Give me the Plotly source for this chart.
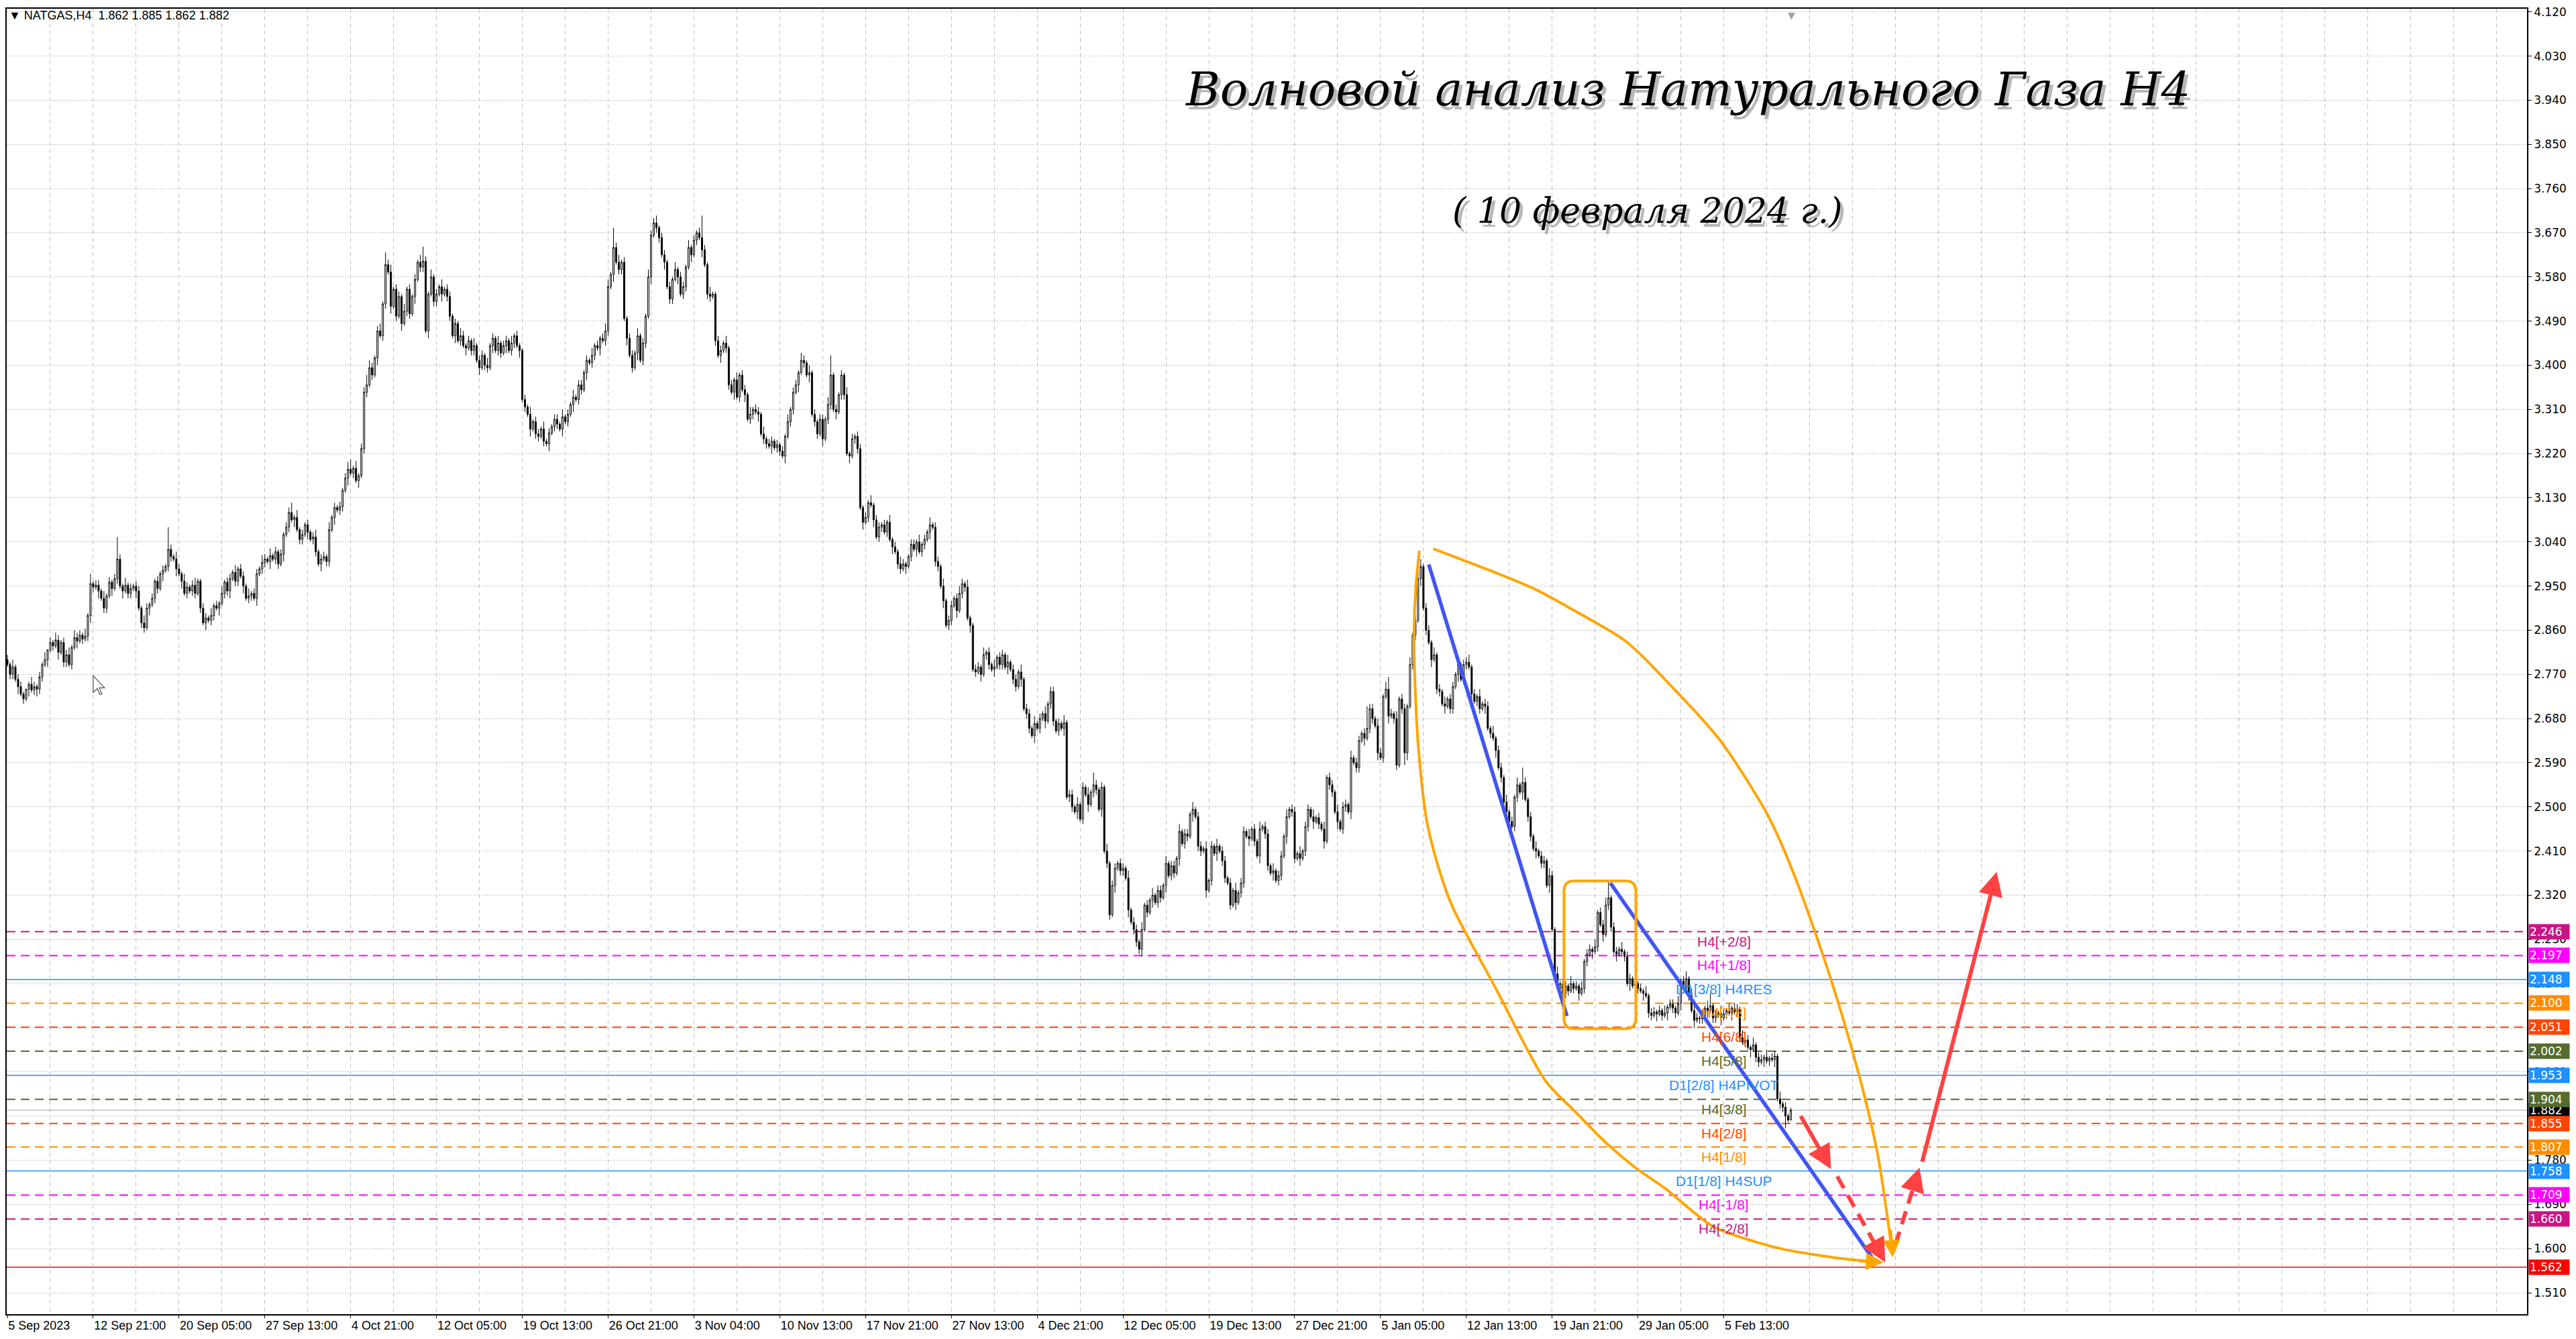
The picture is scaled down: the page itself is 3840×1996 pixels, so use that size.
import plotly.graph_objects as go

# NATGAS H4, 5 Sep 2023 - 9 Feb 2024
# closes in thousandths, one row = 32 bars (one date label apart)
CLOSE_TXT = """
2790 2770 2785 2760 2745 2730 2720 2740 2750 2738 2745 2740 2765 2790 2800 2820 2835 2828 2840 2815 2835 2795 2810 2790 2825 2845 2838 2850 2842 2848 2890 2955
2948 2952 2940 2925 2905 2930 2958 2945 2965 3005 2950 2940 2952 2935 2945 2950 2940 2905 2875 2865 2905 2912 2925 2960 2945 2975 2982 2990 3025 3010 3005 2985
2975 2960 2935 2948 2940 2952 2935 2960 2905 2875 2885 2880 2890 2910 2905 2915 2935 2958 2940 2965 2978 2960 2985 2970 2950 2925 2930 2935 2925 2975 2985 2998
3005 3000 3012 3005 3020 2995 3015 3055 3070 3100 3085 3090 3065 3045 3055 3075 3060 3045 3050 3020 2995 3005 3010 3000 3065 3090 3110 3105 3112 3145 3170 3188
3180 3190 3165 3175 3230 3345 3360 3395 3380 3415 3470 3460 3525 3605 3590 3520 3555 3500 3540 3485 3510 3555 3505 3540 3575 3610 3600 3612 3470 3545 3580 3530
3545 3560 3545 3555 3540 3500 3460 3485 3450 3460 3440 3435 3450 3430 3440 3410 3395 3420 3400 3395 3440 3455 3430 3445 3425 3440 3450 3430 3445 3460 3440 3430
3330 3315 3300 3270 3285 3260 3255 3270 3245 3240 3262 3275 3290 3280 3270 3295 3285 3300 3320 3335 3330 3360 3350 3385 3410 3405 3420 3440 3435 3455 3450 3470
3560 3585 3640 3610 3595 3610 3495 3455 3420 3395 3425 3460 3410 3445 3500 3580 3665 3690 3680 3660 3625 3610 3560 3535 3575 3595 3580 3545 3560 3600 3640 3625
3655 3670 3660 3635 3605 3545 3540 3545 3450 3420 3430 3445 3435 3360 3345 3370 3335 3380 3350 3340 3290 3300 3310 3305 3300 3260 3250 3240 3235 3245 3232 3238
3225 3215 3255 3285 3310 3345 3360 3385 3410 3405 3380 3385 3300 3285 3260 3290 3250 3290 3320 3380 3310 3305 3340 3380 3340 3220 3215 3250 3255 3230 3110 3080
3090 3120 3115 3085 3050 3070 3075 3060 3080 3045 3030 3020 2995 2985 2995 2990 3010 3035 3025 3040 3020 3035 3045 3060 3075 3070 3000 2990 2950 2920 2870 2880
2910 2925 2900 2935 2955 2948 2885 2870 2780 2775 2785 2770 2810 2815 2790 2780 2785 2805 2790 2810 2785 2795 2780 2760 2745 2775 2760 2700 2690 2660 2645 2670
2660 2680 2690 2675 2710 2735 2675 2655 2670 2660 2672 2520 2525 2500 2490 2505 2475 2540 2525 2505 2530 2545 2535 2495 2540 2410 2385 2280 2340 2375 2385 2370
2375 2355 2290 2265 2250 2225 2210 2250 2300 2285 2310 2320 2305 2330 2315 2340 2385 2360 2380 2365 2395 2450 2425 2445 2440 2485 2495 2480 2420 2410 2415 2330
2350 2420 2405 2420 2410 2390 2355 2345 2300 2330 2305 2325 2345 2450 2440 2435 2455 2430 2400 2455 2460 2445 2380 2365 2370 2350 2360 2400 2440 2480 2495 2490
2395 2405 2395 2410 2460 2495 2480 2470 2478 2465 2455 2430 2560 2545 2530 2490 2470 2455 2500 2505 2490 2600 2590 2580 2635 2650 2640 2660 2700 2680 2665 2610
2600 2725 2740 2685 2690 2680 2585 2720 2700 2610 2705 2790 2850 2880 2965 2990 2905 2860 2835 2800 2810 2740 2735 2710 2705 2720 2700 2745 2770 2790 2760 2790
2795 2785 2730 2715 2725 2700 2710 2705 2660 2650 2640 2615 2580 2560 2510 2490 2470 2460 2520 2545 2530 2550 2515 2480 2440 2415 2410 2400 2385 2390 2340 2360
2250 2160 2130 2140 2120 2135 2125 2140 2130 2135 2120 2130 2185 2200 2210 2205 2215 2285 2260 2240 2300 2315 2255 2205 2200 2210 2205 2195 2140 2150 2135 2140
2130 2125 2120 2115 2080 2075 2082 2078 2085 2075 2080 2092 2098 2090 2080 2100 2145 2130 2150 2115 2085 2065 2070 2068 2075 2090 2085 2095 2070 2075 2080 2070
2078 2085 2080 2090 2082 2088 2030 2020 2025 2010 2005 2015 1990 1980 1985 1990 1982 1988 1985 1992 1905 1895 1888 1870 1862 1882
"""
FIRST_OPEN = 2.800

# wick lengths, one digit per bar, unit 0.005
UP_WICK = """
21312210 13212130 21321223 13221314
12213121 29213121 22132121 21219213
21321231 12213121 31221312 21312213
21312121 22413121 21231221 31212123
41312243 21231523 12213121 21362131
21312212 13212131 22131213 12213121
12131221 31212213 12131221 21312123
31823121 22131213 22312212 13122131
21292131 12213121 31221312 21312212
12131221 32131212 21381212 13121221
21312212 13121321 12213121 31221312
21232131 12213121 31221312 21312213
12131221 21312213 12131521 21312212
21312213 12131221 31221312 21312213
12131221 21312213 12131221 31221312
21312213 12131221 31221312 21292213
21352131 22131243 12213121 31221312
23121312 21312213 12131621 21312213
21312213 12131221 31223712 21312213
12131221 21312213 12313221 21351213
21312213 12131221 31221312 11
"""
DN_WICK = """
12213121 31232213 12131221 21312123
21312213 12131221 31221312 21312213
13121221 21312213 12231221 31221312
21312213 12131221 31221312 21312213
12131221 21312213 12131221 31221312
21312213 12131221 31221312 21312213
12131221 21312213 12131221 31221312
21312213 12131221 31221312 21312213
12131221 21312213 12131221 31221312
21312213 12131221 31221312 21312213
12131221 21312213 12131221 31221312
21312213 12131221 31221312 21312213
12131221 21312213 12131221 31221312
21312223 12131221 31221312 21312213
12131221 21312213 12131221 31221312
21312213 12131221 31221312 21312213
12131221 25312213 12131221 31221312
21312213 12131221 31221312 21312213
12131221 21312213 12131221 31221312
21312213 12131221 31221312 21312213
12131221 21312213 12131225 10
"""

X_LABELS = ["5 Sep 2023", "12 Sep 21:00", "20 Sep 05:00", "27 Sep 13:00", "4 Oct 21:00",
            "12 Oct 05:00", "19 Oct 13:00", "26 Oct 21:00", "3 Nov 04:00", "10 Nov 13:00",
            "17 Nov 21:00", "27 Nov 13:00", "4 Dec 21:00", "12 Dec 05:00", "19 Dec 13:00",
            "27 Dec 21:00", "5 Jan 05:00", "12 Jan 13:00", "19 Jan 21:00", "29 Jan 05:00",
            "5 Feb 13:00"]
BARS_PER_LABEL = 32

Y_TICKS = [1.51, 1.60, 1.69, 1.78, 1.87, 1.96, 2.05, 2.14, 2.23, 2.32, 2.41, 2.50, 2.59, 2.68,
           2.77, 2.86, 2.95, 3.04, 3.13, 3.22, 3.31, 3.40, 3.49, 3.58, 3.67, 3.76, 3.85, 3.94,
           4.03, 4.12]

# murrey levels
LEVEL_PRICE = [2.246, 2.197, 2.148, 2.100, 2.051, 2.002, 1.953, 1.904, 1.855, 1.807, 1.758, 1.709, 1.660]
LEVEL_NAME = ["H4[+2/8]", "H4[+1/8]", "D1[3/8] H4RES", "H4[7/8]", "H4[6/8]", "H4[5/8]",
              "D1[2/8] H4PIVOT", "H4[3/8]", "H4[2/8]", "H4[1/8]", "D1[1/8] H4SUP", "H4[-1/8]", "H4[-2/8]"]
LEVEL_COLOR = ["#C71585", "#FF00FF", "#1E90FF", "#FF8C00", "#FF4500", "#556B2F", "#1E90FF",
               "#556B2F", "#FF4500", "#FF8C00", "#1E90FF", "#FF00FF", "#C71585"]
LEVEL_SOLID = [False, False, True, False, False, False, True, False, False, False, True, False, False]
LABEL_BAR = 640
BID = 1.882
TARGET = 1.562

# hand drawn wave markup (bar, price)
BLUE_LINES = [((530.0, 2.994), (581.5, 2.074)), ((597.7, 2.345), (695.2, 1.582))]
BOX = (580.4, 607.2, 2.048, 2.349)
LEFT_ARC_X = [526.5, 525.2, 524.5, 524.8, 526.2, 529.2, 533.6, 538.8, 555.0, 573.5, 584.6, 595.8,
              607.0, 618.0, 636.0, 651.6, 662.7, 685.0, 697.0]
LEFT_ARC_Y = [3.022, 2.951, 2.856, 2.760, 2.616, 2.473, 2.377, 2.297, 2.130, 1.942, 1.879, 1.817,
              1.765, 1.723, 1.645, 1.614, 1.598, 1.579, 1.573]
RIGHT_ARC_X = [531.7, 568.7, 586.2, 603.8, 621.3, 638.7, 656.5, 666.0, 679.5, 690.7, 697.4, 702.6]
RIGHT_ARC_Y = [3.026, 2.946, 2.894, 2.836, 2.741, 2.635, 2.482, 2.365, 2.156, 1.948, 1.791, 1.600]
RED_SOLID = [((668.5, 1.872), (680.0, 1.762)), ((713.9, 1.775), (741.75, 2.368))]
RED_DASHED = [((682.3, 1.747), (700.2, 1.572)), ((704.0, 1.608), (713.0, 1.765))]

# the page puts the figure 8px in from the top-left corner
PAGE_OFF = 8
W, H = 3840 - PAGE_OFF, 1996 - PAGE_OFF
ML, MR, MT, MB = 0, 73, 0, 37
PW, PH = W - ML - MR, H - MT - MB
X0 = -0.25

close = [int(v) / 1000 for v in CLOSE_TXT.split()]
up = [int(ch) for ch in UP_WICK if ch.isdigit()]
dn = [int(ch) for ch in DN_WICK if ch.isdigit()]
opens = [FIRST_OPEN] + close[:-1]
n = min(len(close), len(up), len(dn))
high = [max(o, c) + u * 0.005 for o, c, u in zip(opens[:n], close[:n], up[:n])]
low = [min(o, c) - d * 0.005 for o, c, d in zip(opens[:n], close[:n], dn[:n])]


def px(x, y):
    # screen pixel -> paper coords
    return (x - PAGE_OFF - ML) / PW, 1 - (y - PAGE_OFF - MT) / PH


fig = go.Figure()

fig.add_trace(go.Candlestick(
    x=list(range(n)), open=opens[:n], high=high, low=low, close=close[:n],
    increasing=dict(line=dict(color="black", width=1), fillcolor="white"),
    decreasing=dict(line=dict(color="black", width=1), fillcolor="black"),
    whiskerwidth=0, hoverinfo="skip", showlegend=False,
))

fig.add_trace(go.Scatter(x=LEFT_ARC_X, y=LEFT_ARC_Y, mode="lines",
                         line=dict(color="#FFA500", width=4, shape="spline", smoothing=0.8),
                         hoverinfo="skip", showlegend=False))
fig.add_trace(go.Scatter(x=RIGHT_ARC_X, y=RIGHT_ARC_Y, mode="lines",
                         line=dict(color="#FFA500", width=4, shape="spline", smoothing=0.8),
                         hoverinfo="skip", showlegend=False))

shapes = []
ann = []

# level lines
for p, col, solid, name in zip(LEVEL_PRICE, LEVEL_COLOR, LEVEL_SOLID, LEVEL_NAME):
    shapes.append(dict(type="line", xref="paper", x0=0, x1=1, yref="y", y0=p, y1=p, layer="below",
                       line=dict(color=col, width=1.5 if solid else 2,
                                 dash="solid" if solid else "13px,8px")))
    ann.append(dict(x=LABEL_BAR, y=p, xref="x", yref="y", text=name, showarrow=False,
                    xanchor="center", yanchor="top", yshift=-1,
                    font=dict(family="Liberation Sans", size=21, color=col)))
shapes.append(dict(type="line", xref="paper", x0=0, x1=1, yref="y", y0=BID, y1=BID, layer="below",
                   line=dict(color="#C0C0C0", width=1.5)))
shapes.append(dict(type="line", xref="paper", x0=0, x1=1, yref="y", y0=TARGET, y1=TARGET, layer="below",
                   line=dict(color="#FF0000", width=1.5)))

# price tags on the axis
tags = [(BID, "#000000")] + list(zip(LEVEL_PRICE, LEVEL_COLOR)) + [(TARGET, "#FF0000")]
for p, col in tags:
    ann.append(dict(x=1, y=p, xref="paper", yref="y", text=f"{p:.3f}", showarrow=False,
                    xanchor="left", yanchor="middle", xshift=2, width=58, height=20,
                    align="left", bgcolor=col, borderpad=1,
                    font=dict(family="DejaVu Sans", size=17, color="white")))

# blue wave lines
for (x0, y0), (x1, y1) in BLUE_LINES:
    shapes.append(dict(type="line", xref="x", yref="y", x0=x0, y0=y0, x1=x1, y1=y1,
                       line=dict(color="#4055F2", width=5.5), layer="above"))

# rounded box
bx0, bx1, by0, by1 = BOX
rx, ry = 3.8, 0.021
path = (f"M{bx0 + rx},{by1} L{bx1 - rx},{by1} Q{bx1},{by1} {bx1},{by1 - ry} "
        f"L{bx1},{by0 + ry} Q{bx1},{by0} {bx1 - rx},{by0} L{bx0 + rx},{by0} "
        f"Q{bx0},{by0} {bx0},{by0 + ry} L{bx0},{by1 - ry} Q{bx0},{by1} {bx0 + rx},{by1} Z")
shapes.append(dict(type="path", xref="x", yref="y", path=path,
                   line=dict(color="#FFA500", width=4), layer="above"))

# orange arc heads
ann.append(dict(x=699.5, y=1.572, ax=690.0, ay=1.5745, xref="x", yref="y", axref="x", ayref="y",
                text="", showarrow=True, arrowhead=2, arrowsize=1.3, arrowwidth=4, arrowcolor="#FFA500"))
ann.append(dict(x=703.0, y=1.582, ax=702.2, ay=1.64, xref="x", yref="y", axref="x", ayref="y",
                text="", showarrow=True, arrowhead=2, arrowsize=1.3, arrowwidth=4, arrowcolor="#FFA500"))

# red forecast arrows
RED = "#FF4242"
for (x0, y0), (x1, y1) in RED_SOLID:
    ann.append(dict(x=x1, y=y1, ax=x0, ay=y0, xref="x", yref="y", axref="x", ayref="y",
                    text="", showarrow=True, arrowhead=2, arrowsize=1.2, arrowwidth=6,
                    arrowcolor=RED))
for (x0, y0), (x1, y1) in RED_DASHED:
    mx, my = x1 - 0.12 * (x1 - x0), y1 - 0.12 * (y1 - y0)
    shapes.append(dict(type="line", xref="x", yref="y", x0=x0, y0=y0, x1=mx, y1=my,
                       line=dict(color=RED, width=6, dash="20px,12px"), layer="above"))
    ann.append(dict(x=x1, y=y1, ax=mx, ay=my, xref="x", yref="y", axref="x", ayref="y",
                    text="", showarrow=True, arrowhead=2, arrowsize=1.2, arrowwidth=6,
                    arrowcolor=RED))

# titles
title = "<i>Волновой анализ Натурального Газа Н4</i>"
sub = "<i>( 10 февраля 2024 г.)</i>"
tx, ty = px(2515, 128)
sx, sy = px(2455, 310)
for col, dx, dy in [("rgba(0,0,0,0.28)", 5, -6), ("black", 0, 0)]:
    ann.append(dict(x=tx, y=ty, xref="paper", yref="paper", text=title, showarrow=False,
                    xanchor="center", yanchor="middle", xshift=dx, yshift=dy,
                    font=dict(family="DejaVu Serif", size=69, color=col)))
    ann.append(dict(x=sx, y=sy, xref="paper", yref="paper", text=sub, showarrow=False,
                    xanchor="center", yanchor="middle", xshift=dx, yshift=dy,
                    font=dict(family="DejaVu Serif", size=52, color=col)))

# header
hx, hy = px(9, 18)
ann.append(dict(x=hx, y=hy, xref="paper", yref="paper", showarrow=False, xanchor="left",
                yanchor="middle",
                text="▼ NATGAS,H4\u00a0\u00a01.862 1.885 1.862 1.882",
                font=dict(family="Liberation Sans", size=18, color="black")))

# chart shift marker
ann.append(dict(x=px(2670, 0)[0], y=1, xref="paper", yref="paper", showarrow=False,
                xanchor="center", yanchor="top", text="▼",
                font=dict(family="DejaVu Sans", size=14, color="#A0A0A0")))

# mouse pointer
cur = [(0, 0), (0, 25), (6, 19), (10, 28), (13, 27), (9, 18), (17, 18)]
pts = [px(137 + dx, 1005 + dy) for dx, dy in cur]
cpath = "M" + " L".join(f"{a:.5f},{b:.5f}" for a, b in pts) + " Z"
shapes.append(dict(type="path", xref="paper", yref="paper", path=cpath,
                   fillcolor="white", line=dict(color="#505050", width=1.2), layer="above"))

major = [i * BARS_PER_LABEL for i in range(len(X_LABELS))]
minor = [16 * k for k in range(1, 59) if (k % 2 == 1 or 16 * k > major[-1])]

fig.update_layout(
    width=W, height=H,
    margin=dict(l=ML, r=MR, t=MT, b=MB),
    paper_bgcolor="white", plot_bgcolor="white",
    showlegend=False, hovermode=False,
    shapes=shapes, annotations=ann,
    xaxis=dict(
        range=[X0, X0 + PW / 4], fixedrange=True, rangeslider=dict(visible=False),
        tickvals=major, ticktext=X_LABELS, ticks="outside", ticklen=4, tickcolor="black",
        ticklabelposition="outside right",
        tickfont=dict(family="Liberation Sans", size=18, color="black"),
        showgrid=True, gridcolor="#C0C0C0", gridwidth=1, griddash="6px,5px",
        minor=dict(tickvals=minor, showgrid=True, gridcolor="#C0C0C0", gridwidth=1,
                   griddash="6px,5px", ticks=""),
        showline=True, linecolor="black", linewidth=1.5, mirror=True, zeroline=False,
    ),
    yaxis=dict(
        range=[1.4663, 4.1265], fixedrange=True, side="right",
        tickvals=Y_TICKS, tickformat=".3f", ticks="outside", ticklen=5, tickcolor="black",
        ticklabeloverflow="allow",
        tickfont=dict(family="DejaVu Sans", size=17, color="black"),
        showgrid=True, gridcolor="#C0C0C0", gridwidth=1, griddash="2px,2px",
        showline=True, linecolor="black", linewidth=1.5, mirror=True, zeroline=False,
    ),
)

fig.write_html("out.html")
